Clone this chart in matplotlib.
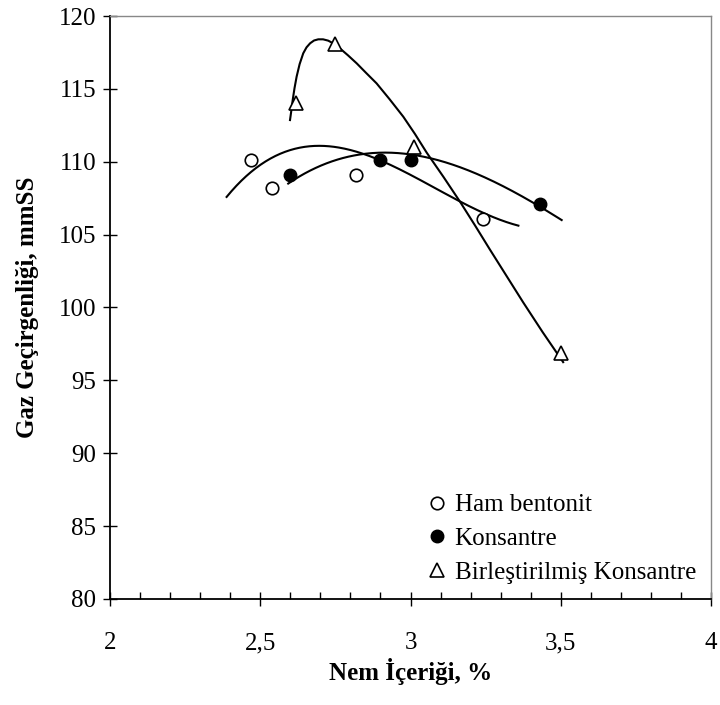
import numpy as np
import matplotlib.pyplot as plt
from matplotlib.ticker import MultipleLocator, FuncFormatter

plt.rcParams['font.family'] = ['Liberation Serif', 'DejaVu Serif']

ham_x = [2.47, 2.54, 2.82, 3.24]
ham_y = [110.1, 108.2, 109.1, 106.1]
kon_x = [2.60, 2.90, 3.00, 3.43]
kon_y = [109.1, 110.1, 110.1, 107.1]
bir_x = [2.62, 2.75, 3.01, 3.50]
bir_y = [114.0, 118.1, 111.0, 96.9]

# trend lines, also
ham_tx = [2.388, 2.438, 2.494, 2.571, 2.660, 2.749, 2.826, 2.932, 3.043, 3.154, 3.265, 3.359]
ham_ty = [107.38, 108.75, 109.89, 110.76, 111.08, 110.92, 110.46, 109.62, 108.75, 107.56, 106.35, 105.50]
kon_tx = [2.593, 2.682, 2.793, 2.882, 2.932, 3.043, 3.154, 3.265, 3.398, 3.503]
kon_ty = [108.63, 109.43, 110.17, 110.62, 110.69, 110.53, 109.78, 108.63, 107.15, 106.12]
bir_tx = [2.599, 2.604, 2.608, 2.614, 2.621, 2.631, 2.643, 2.654, 2.666, 2.679, 2.693, 2.709,
          2.726, 2.745, 2.765, 2.792, 2.821, 2.852, 2.887, 2.930, 2.976, 3.015, 3.054,
          3.110, 3.165, 3.215, 3.265, 3.320, 3.375, 3.440, 3.508]
bir_ty = [112.86, 113.60, 114.24, 115.05, 115.84, 116.70, 117.44, 117.85, 118.13, 118.32,
          118.40, 118.40, 118.31, 118.10, 117.78, 117.30, 116.75, 116.10, 115.38, 114.30,
          113.09, 111.90, 110.62, 108.95, 107.25, 105.62, 103.95, 102.15, 100.35, 98.30,
          96.25]

labels = ['Ham bentonit', 'Konsantre', 'Birleştirilmiş Konsantre']

fig = plt.figure(figsize=(7.2, 7.05), dpi=100)
ax = fig.add_axes([0.1528, 0.1504, 0.8347, 0.8269])

# smooth the two flat trend lines with a cubic (Excel-style trend line)
for tx, ty in [(ham_tx, ham_ty), (kon_tx, kon_ty)]:
    p = np.polyfit(tx, ty, 3)
    xx = np.linspace(tx[0], tx[-1], 300)
    ax.plot(xx, np.polyval(p, xx), color='black', lw=1.5)
ax.plot(bir_tx, bir_ty, color='black', lw=1.5, solid_joinstyle='round')

ax.plot(ham_x, ham_y, 'o', mfc='white', mec='black', mew=1.2, ms=9, ls='none', label=labels[0])
ax.plot(kon_x, kon_y, 'o', mfc='black', mec='black', ms=9, ls='none', label=labels[1])
ax.plot(bir_x, bir_y, '^', mfc='white', mec='black', mew=1.2, ms=10, ls='none', label=labels[2])

ax.set_xlim(2, 4)
ax.set_ylim(80, 120)
ax.xaxis.set_major_locator(MultipleLocator(0.5))
ax.xaxis.set_minor_locator(MultipleLocator(0.1))
ax.yaxis.set_major_locator(MultipleLocator(5))
ax.xaxis.set_major_formatter(FuncFormatter(lambda v, p: ('%g' % v).replace('.', ',')))

ax.tick_params(axis='x', which='major', direction='inout', length=10, width=1, labelsize=18, pad=19)
ax.tick_params(axis='x', which='minor', direction='in', length=5, width=1)
ax.tick_params(axis='y', which='major', direction='inout', length=10, width=1, labelsize=18, pad=5)

for s in ['top', 'right']:
    ax.spines[s].set_color('#888888')
    ax.spines[s].set_linewidth(1)
for s in ['left', 'bottom']:
    ax.spines[s].set_linewidth(1.3)

ax.set_xlabel('Nem İçeriği, %', fontsize=18, fontweight='bold', labelpad=3)
ax.set_ylabel('Gaz Geçirgenliği, mmSS', fontsize=18, fontweight='bold', labelpad=14)

ax.legend(loc='lower right', frameon=False, fontsize=18, handletextpad=0.2,
          handlelength=1.0, labelspacing=0.45, borderaxespad=0.2)

fig.savefig('out.png', dpi=100)
